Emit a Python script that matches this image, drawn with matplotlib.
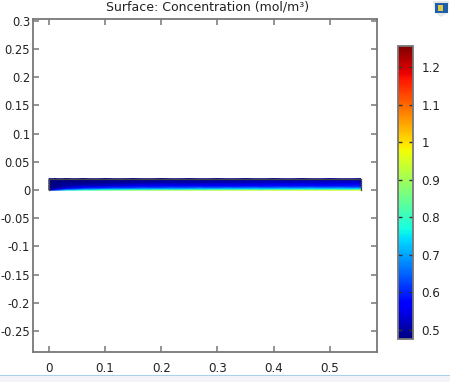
import numpy as np
import matplotlib
matplotlib.use("Agg")
import matplotlib.pyplot as plt
from matplotlib.patches import Rectangle, Polygon

# Concentration at mesh nodes
x_nodes = [0, 0.01, 0.03, 0.06, 0.1, 0.15, 0.2, 0.25, 0.3, 0.35, 0.4, 0.45, 0.5, 0.555]
y_nodes = [0, 0.001, 0.003, 0.0055, 0.008, 0.012, 0.016, 0.02]
conc = [
    [0.50, 0.62, 0.76, 0.82, 0.86, 0.89, 0.91, 0.92, 0.93, 0.94, 0.95, 0.95, 0.96, 0.96],
    [0.49, 0.55, 0.68, 0.74, 0.78, 0.80, 0.82, 0.83, 0.84, 0.85, 0.85, 0.86, 0.86, 0.86],
    [0.48, 0.51, 0.58, 0.63, 0.67, 0.69, 0.70, 0.71, 0.72, 0.73, 0.73, 0.74, 0.74, 0.74],
    [0.48, 0.49, 0.53, 0.56, 0.58, 0.60, 0.61, 0.62, 0.62, 0.63, 0.63, 0.64, 0.64, 0.64],
    [0.48, 0.48, 0.50, 0.52, 0.53, 0.55, 0.56, 0.56, 0.57, 0.57, 0.58, 0.58, 0.58, 0.59],
    [0.48, 0.48, 0.49, 0.49, 0.50, 0.51, 0.52, 0.52, 0.53, 0.53, 0.54, 0.54, 0.54, 0.55],
    [0.48, 0.48, 0.48, 0.48, 0.49, 0.49, 0.50, 0.50, 0.50, 0.51, 0.51, 0.51, 0.52, 0.52],
    [0.48, 0.48, 0.48, 0.48, 0.48, 0.48, 0.48, 0.49, 0.49, 0.49, 0.49, 0.49, 0.50, 0.50],
]
x_ticks = [0, 0.1, 0.2, 0.3, 0.4, 0.5]
y_ticks = [0.3, 0.25, 0.2, 0.15, 0.1, 0.05, 0, -0.05, -0.1, -0.15, -0.2, -0.25]
cbar_ticks = [0.5, 0.6, 0.7, 0.8, 0.9, 1, 1.1, 1.2]
c_min, c_max = 0.476, 1.256

W, H = 450, 382
grey = "#777777"
txt = "#222222"

plt.rcParams["font.family"] = "DejaVu Sans"
plt.rcParams["font.size"] = 8.6
plt.rcParams["axes.unicode_minus"] = False


def box(l, t, r, b):
    # pixel box -> figure fractions
    return [l / W, 1 - b / H, (r - l) / W, (b - t) / H]


fig = plt.figure(figsize=(W / 100, H / 100), dpi=100)

ax = fig.add_axes(box(33, 19, 377, 352))
mesh = ax.pcolormesh(x_nodes, y_nodes, np.array(conc), cmap="jet", vmin=c_min, vmax=c_max,
                     shading="gouraud")
# outline on three sides only, the bright bottom edge stays visible
ax.plot([x_nodes[0], x_nodes[0], x_nodes[-1], x_nodes[-1]],
        [y_nodes[0], y_nodes[-1], y_nodes[-1], y_nodes[0]], color="#444444", lw=0.9)
ax.set_xlim(-0.0285, 0.584)
ax.set_ylim(-0.287, 0.303)
ax.set_xticks(x_ticks)
ax.set_xticklabels([f"{v:g}" for v in x_ticks])
ax.set_yticks(y_ticks)
ax.set_yticklabels([f"{v:g}" for v in y_ticks], fontsize=8.3)
ax.tick_params(direction="in", top=True, right=True, length=4.5, width=1.1, color=grey,
               labelcolor=txt)
ax.tick_params(axis="y", pad=2)
ax.tick_params(axis="x", pad=7)
for s in ax.spines.values():
    s.set_color(grey)
    s.set_linewidth(1.3)
fig.text(208 / W, 1 - 6.5 / H, "Surface: Concentration (mol/m³)", fontsize=9, color=txt,
         ha="center", va="center")

cax = fig.add_axes(box(398, 46, 413, 339))
cb = fig.colorbar(mesh, cax=cax, ticks=cbar_ticks)
cb.ax.set_yticklabels([f"{v:g}" for v in cbar_ticks])
cb.ax.tick_params(direction="in", left=True, right=True, length=3, width=1, color="#333333",
                  labelcolor=txt, pad=6)
cb.outline.set_edgecolor(grey)
cb.outline.set_linewidth(1.3)

# window strip at the bottom of the screenshot
fig.add_artist(Rectangle((0, 0), 1, 6 / H, transform=fig.transFigure, fc="#f4f4f8", ec="none"))
fig.add_artist(Rectangle((0, 6 / H), 1, 1 / H, transform=fig.transFigure, fc="#a9d0ec", ec="none"))

# small app icon, top right
fig.add_artist(Polygon([(433 / W, 1 - 1 / H), (449 / W, 1 - 1 / H), (448 / W, 1 - 13 / H),
                        (441 / W, 1 - 17 / H), (435 / W, 1 - 13 / H)],
                       transform=fig.transFigure, fc="#e4e6ea", ec="none"))
fig.add_artist(Rectangle((435 / W, 1 - 13 / H), 13 / W, 10 / H, transform=fig.transFigure,
                         fc="#1d5fa8", ec="none"))
fig.add_artist(Rectangle((438 / W, 1 - 11 / H), 5 / W, 6 / H, transform=fig.transFigure,
                         fc="#e0c84a", ec="none"))

fig.savefig("out.png", dpi=100)
